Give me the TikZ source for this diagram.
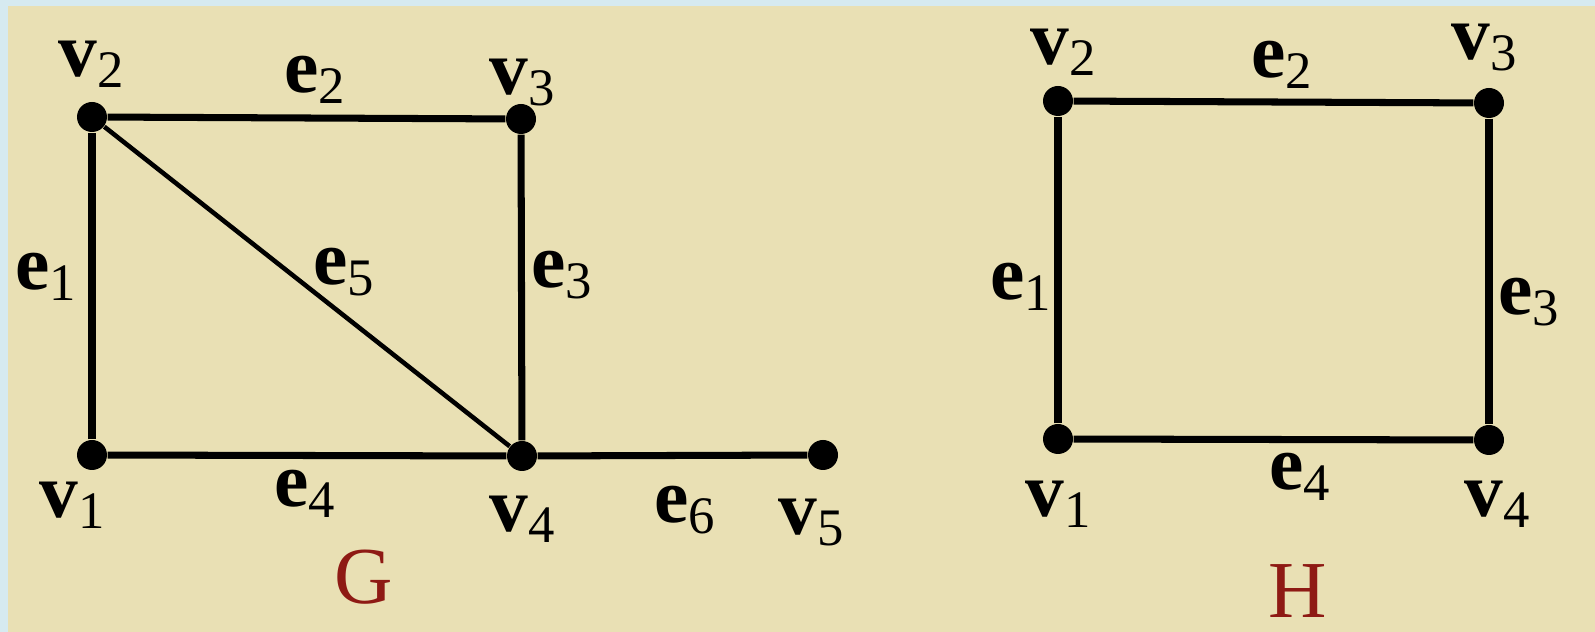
\documentclass[tikz,border=0pt]{standalone}
\usepackage{fontspec}
\setmainfont{Liberation Serif}
\definecolor{paper}{HTML}{E9E0B4}
\definecolor{rim}{HTML}{D6EAF0}
\definecolor{darkred}{HTML}{8E1A14}
\newcommand{\gl}[2]{\textbf{#1}\raisebox{-3pt}{\fontsize{15}{15}\selectfont #2}}
\tikzset{
	vtx/.style={circle,fill=black,inner sep=0pt,minimum size=0.3cm},
	lbl/.style={anchor=base,inner sep=0pt,font=\fontsize{22}{24}\selectfont},
	glabel/.style={anchor=base,inner sep=0pt,text=darkred,font=\fontsize{23}{25}\selectfont},
	thickedge/.style={line width=2pt},
}
\begin{document}
\begin{tikzpicture}

	% background
	\fill[rim] (0,0) rectangle (15.95,6.32);
	\fill[paper] (0.08,0) rectangle (15.95,6.26);
	\useasboundingbox (0,0) rectangle (15.95,6.32);

	% graph G
	\node[vtx] (gv1) at (0.92,1.77) {};
	\node[vtx] (gv2) at (0.92,5.15) {};
	\node[vtx] (gv3) at (5.21,5.13) {};
	\node[vtx] (gv4) at (5.22,1.76) {};
	\node[vtx] (gv5) at (8.23,1.77) {};

	\draw[thickedge] (gv1) -- (gv2);
	\draw[thickedge] (gv2) -- (gv3);
	\draw[thickedge] (gv3) -- (gv4);
	\draw[thickedge] (gv1) -- (gv4);
	\draw[thickedge] (gv4) -- (gv5);
	\draw[line width=1.3pt] (gv2) -- (gv4);

	\node[lbl] (gv1l) at (0.72,1.14) {\gl{v}{1}};
	\node[lbl] (gv2l) at (0.91,5.55) {\gl{v}{2}};
	\node[lbl] (gv3l) at (5.22,5.37) {\gl{v}{3}};
	\node[lbl] (gv4l) at (5.22,1.00) {\gl{v}{4}};
	\node[lbl] (gv5l) at (8.11,0.97) {\gl{v}{5}};

	\node[lbl] (ge1) at (0.46,3.42) {\gl{e}{1}};
	\node[lbl] (ge2) at (3.15,5.39) {\gl{e}{2}};
	\node[lbl] (ge3) at (5.62,3.44) {\gl{e}{3}};
	\node[lbl] (ge4) at (3.05,1.25) {\gl{e}{4}};
	\node[lbl] (ge5) at (3.44,3.47) {\gl{e}{5}};
	\node[lbl] (ge6) at (6.85,1.09) {\gl{e}{6}};

	\node[glabel] (gname) at (3.64,0.28) {G};

	% graph H
	\node[vtx] (hv1) at (10.58,1.93) {};
	\node[vtx] (hv2) at (10.58,5.31) {};
	\node[vtx] (hv3) at (14.89,5.29) {};
	\node[vtx] (hv4) at (14.89,1.92) {};

	\draw[thickedge] (hv1) -- (hv2);
	\draw[thickedge] (hv2) -- (hv3);
	\draw[thickedge] (hv3) -- (hv4);
	\draw[thickedge] (hv1) -- (hv4);

	\node[lbl] (hv1l) at (10.58,1.15) {\gl{v}{1}};
	\node[lbl] (hv2l) at (10.63,5.67) {\gl{v}{2}};
	\node[lbl] (hv3l) at (14.84,5.72) {\gl{v}{3}};
	\node[lbl] (hv4l) at (14.97,1.15) {\gl{v}{4}};

	\node[lbl] (he1) at (10.21,3.32) {\gl{e}{1}};
	\node[lbl] (he2) at (12.82,5.54) {\gl{e}{2}};
	\node[lbl] (he3) at (15.29,3.17) {\gl{e}{3}};
	\node[lbl] (he4) at (13.00,1.42) {\gl{e}{4}};

	\node[glabel] (hname) at (12.98,0.14) {H};

\end{tikzpicture}
\end{document}
